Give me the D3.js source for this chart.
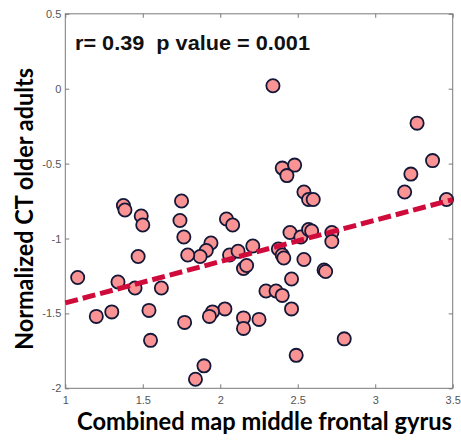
<!DOCTYPE html>
<html>
<head>
<meta charset="utf-8">
<script src="https://cdn.jsdelivr.net/npm/d3@7"></script>
<style>
  html, body { margin: 0; padding: 0; background: #fff; }
  svg { display: block; }
</style>
</head>
<body>
<svg id="chart" width="461" height="441"></svg>
<script>
// Combined map value (middle frontal gyrus) per participant
const xVals = [
  2.34, 3.27, 3.37, 3.23, 3.19, 3.46, 2.40, 2.48, 2.43, 2.54,
  2.57, 2.60, 1.75, 1.375, 1.385, 1.49, 1.50, 1.74, 1.765, 2.04,
  2.08, 1.94, 1.91, 1.87, 1.79, 2.06, 2.115, 2.15, 2.17, 2.21,
  2.375, 2.40, 2.41, 2.45, 2.52, 2.57, 2.59, 2.72, 2.72, 2.54,
  2.46, 2.67, 2.68, 2.295, 2.36, 2.40, 2.46, 2.80, 2.49, 2.25,
  2.15, 2.15, 2.03, 1.95, 1.93, 1.895, 1.84, 1.77, 1.55, 1.54,
  1.62, 1.47, 1.45, 1.34, 1.30, 1.20, 1.08
];
// Normalized cortical thickness, older adults
const yVals = [
  0.02, -0.23, -0.48, -0.57, -0.69, -0.74, -0.53, -0.51, -0.58, -0.69,
  -0.74, -0.74, -0.75, -0.78, -0.81, -0.85, -0.91, -0.88, -0.99, -0.87,
  -0.91, -1.03, -1.08, -1.12, -1.11, -1.11, -1.085, -1.20, -1.18, -1.05,
  -1.07, -1.11, -1.13, -0.96, -0.99, -0.94, -0.95, -0.96, -1.02, -1.14,
  -1.27, -1.21, -1.22, -1.35, -1.35, -1.38, -1.47, -1.67, -1.78, -1.54,
  -1.53, -1.60, -1.47, -1.49, -1.52, -1.85, -1.94, -1.56, -1.68, -1.48,
  -1.33, -1.12, -1.33, -1.29, -1.49, -1.52, -1.26
];
// Least-squares fit line end points
const fitX = [1, 3.5];
const fitY = [-1.43, -0.74];

const xTicks = [1, 1.5, 2, 2.5, 3, 3.5];
const yTicks = [0.5, 0, -0.5, -1, -1.5, -2];
const xTickLabels = ["1", "1.5", "2", "2.5", "3", "3.5"];
const yTickLabels = ["0.5", "0", "-0.5", "-1", "-1.5", "-2"];

const statsText = "r= 0.39  p value = 0.001";
const xTitle = "Combined map middle frontal gyrus";
const yTitle = "Normalized CT older adults";

const svg = d3.select("#chart");
const plotLeft = 65.3, plotRight = 452.7, plotTop = 13.8, plotBottom = 388.3;

const x = d3.scaleLinear().domain([1, 3.5]).range([plotLeft, plotRight]);
const y = d3.scaleLinear().domain([-2, 0.5]).range([plotBottom, plotTop]);

const frameColor = "#7a7a7a";
const tickTextColor = "#555";

function styleAxis(g, showText) {
  g.select(".domain").remove();
  g.selectAll(".tick line").attr("stroke", frameColor).attr("stroke-width", 1);
  if (!showText) g.selectAll(".tick text").remove();
  else g.selectAll(".tick text")
      .attr("fill", tickTextColor)
      .style("font-family", "'Liberation Sans', Arial, sans-serif")
      .style("font-size", "11px");
}

// Bottom axis (labels) and top mirror ticks
svg.append("g").attr("transform", `translate(0,${plotBottom})`)
  .call(d3.axisBottom(x).tickValues(xTicks).tickSize(-4).tickPadding(8)
    .tickFormat((d, i) => xTickLabels[i]))
  .call(g => styleAxis(g, true));
svg.append("g").attr("transform", `translate(0,${plotTop})`)
  .call(d3.axisTop(x).tickValues(xTicks).tickSize(-4))
  .call(g => styleAxis(g, false));

// Left axis (labels) and right mirror ticks
svg.append("g").attr("transform", `translate(${plotLeft},0)`)
  .call(d3.axisLeft(y).tickValues(yTicks).tickSize(-4).tickPadding(4)
    .tickFormat((d, i) => yTickLabels[i]))
  .call(g => styleAxis(g, true));
svg.append("g").attr("transform", `translate(${plotRight},0)`)
  .call(d3.axisRight(y).tickValues(yTicks).tickSize(-4))
  .call(g => styleAxis(g, false));

// Box frame
svg.append("rect")
  .attr("x", plotLeft).attr("y", plotTop)
  .attr("width", plotRight - plotLeft).attr("height", plotBottom - plotTop)
  .attr("fill", "none").attr("stroke", frameColor).attr("stroke-width", 1);

// Scatter points
const pts = xVals.map((v, i) => ({ x: v, y: yVals[i] }));
svg.append("g").selectAll("circle").data(pts).join("circle")
  .attr("cx", d => x(d.x))
  .attr("cy", d => y(d.y))
  .attr("r", 6.6)
  .attr("fill", "#fa9494")
  .attr("stroke", "#141838")
  .attr("stroke-width", 1.8);

// Regression line
const line = d3.line().x(d => x(d[0])).y(d => y(d[1]));
svg.append("path")
  .datum(fitX.map((v, i) => [v, fitY[i]]))
  .attr("d", line)
  .attr("fill", "none")
  .attr("stroke", "#cf0b3b")
  .attr("stroke-width", 5)
  .attr("stroke-dasharray", "13,5");

// Statistics annotation
svg.append("text")
  .attr("x", 75).attr("y", 49.5)
  .attr("textLength", 235).attr("lengthAdjust", "spacingAndGlyphs")
  .style("white-space", "pre")
  .style("font-family", "'Liberation Sans', Arial, sans-serif")
  .style("font-weight", "bold")
  .style("font-size", "21px")
  .attr("fill", "#111")
  .text(statsText);

// Axis titles (slightly condensed bold face)
svg.append("text")
  .attr("transform", "translate(77,429.5) scale(1,1.08)")
  .attr("textLength", 375).attr("lengthAdjust", "spacingAndGlyphs")
  .style("font-family", "Lato, 'Open Sans', sans-serif")
  .style("font-weight", "bold")
  .style("font-size", "23px")
  .attr("fill", "#000")
  .text(xTitle);

svg.append("text")
  .attr("transform", "translate(33,209) rotate(-90) scale(1,1.08)")
  .attr("text-anchor", "middle")
  .attr("textLength", 282).attr("lengthAdjust", "spacingAndGlyphs")
  .style("font-family", "Lato, 'Open Sans', sans-serif")
  .style("font-weight", "bold")
  .style("font-size", "23px")
  .attr("fill", "#000")
  .text(yTitle);
</script>
</body>
</html>
